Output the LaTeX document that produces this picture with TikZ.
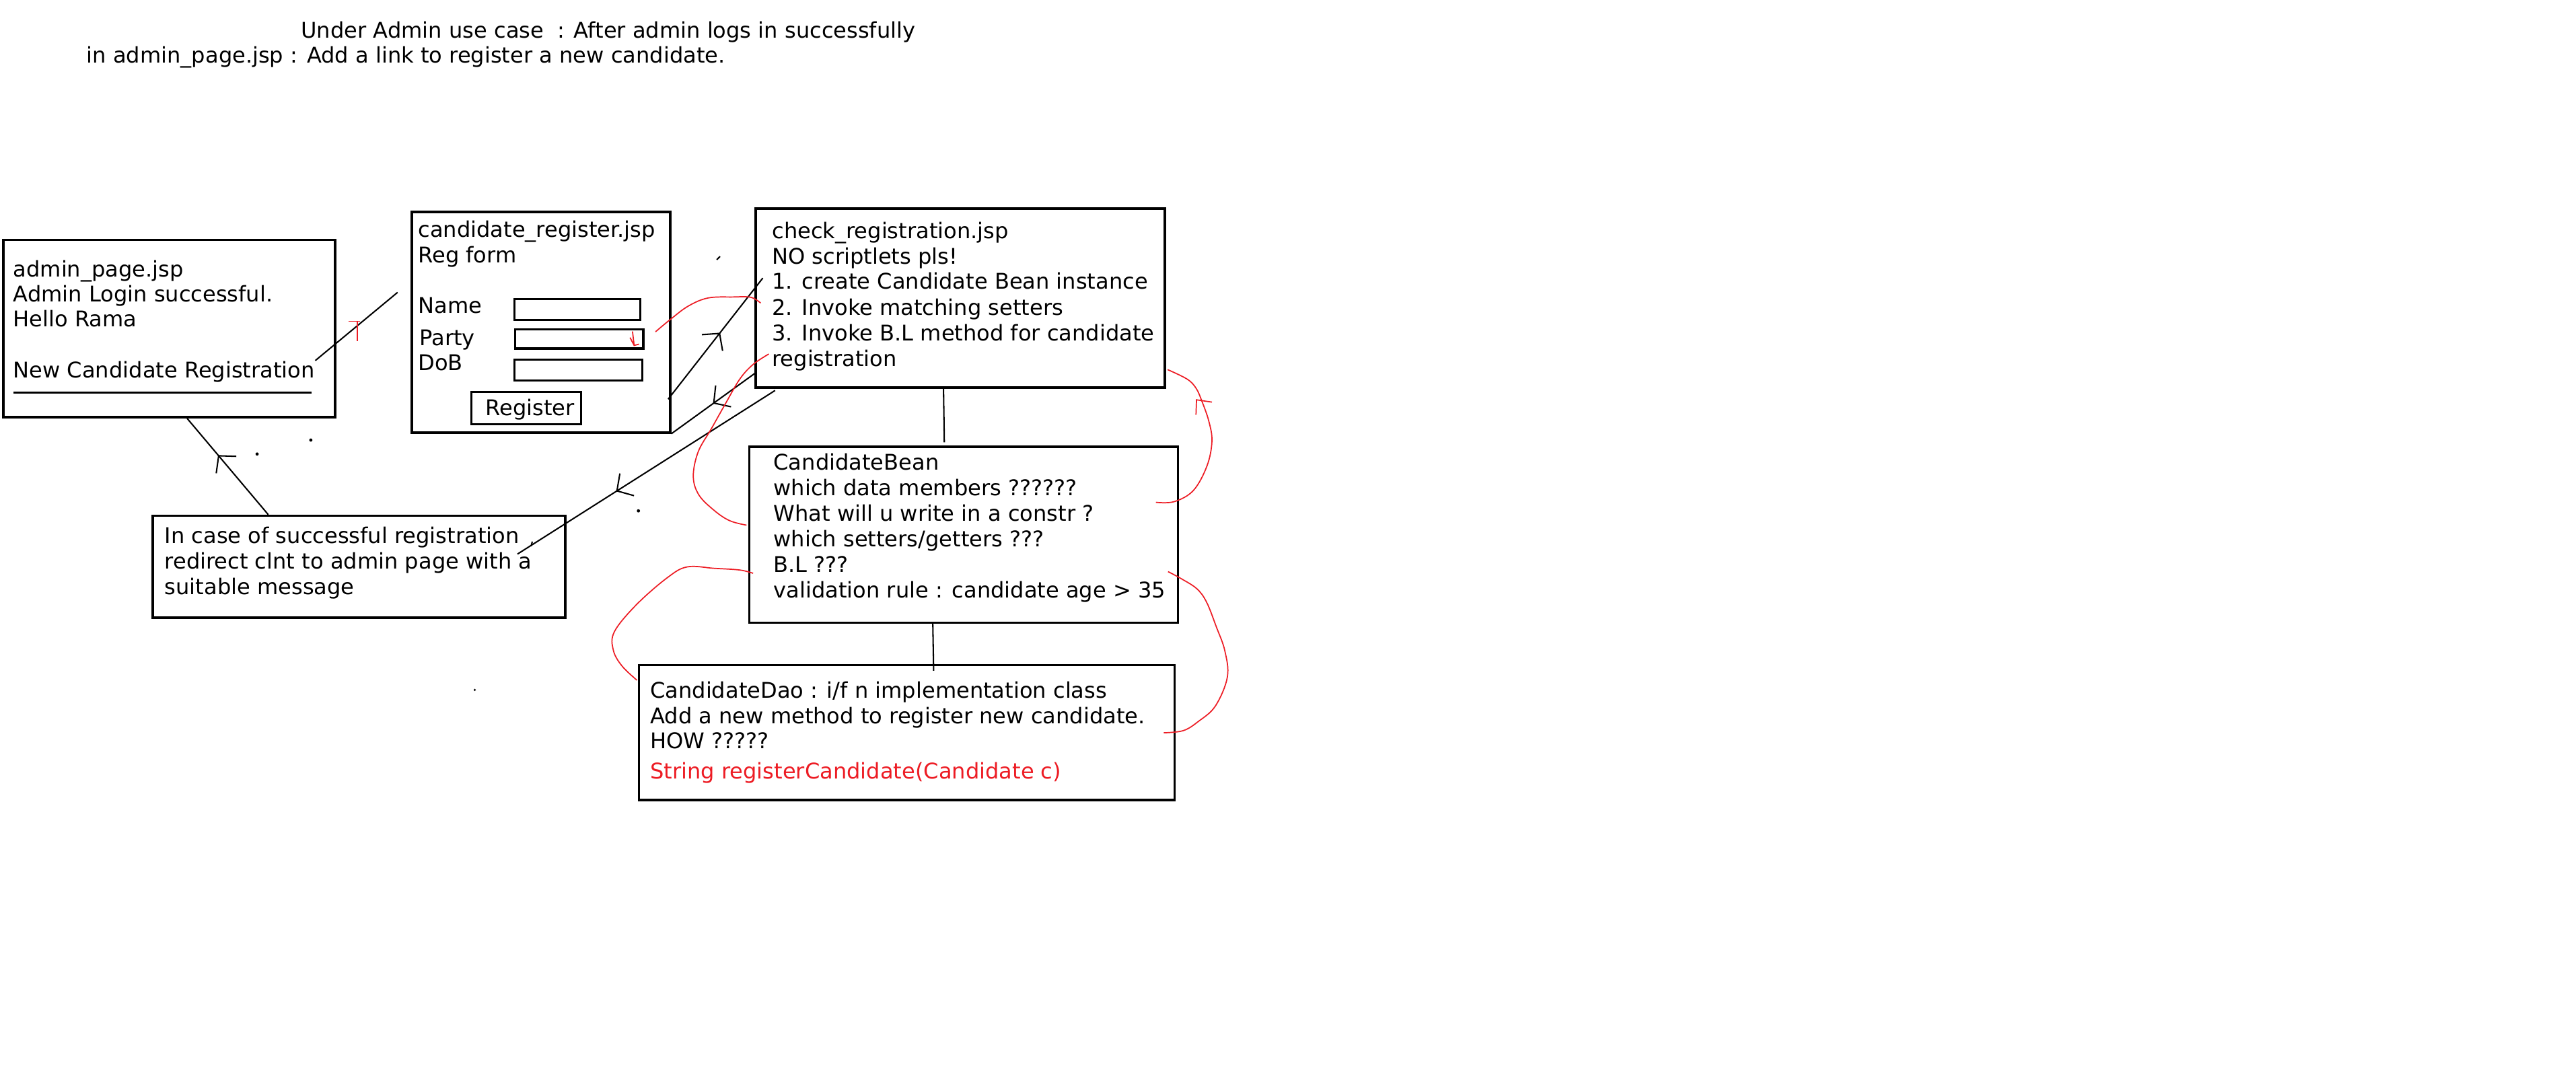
\documentclass[tikz,border=0pt]{standalone}
\usepackage{fontspec}
\setmainfont{DejaVu Sans}
\usetikzlibrary{arrows.meta, fit, calc, decorations.markings}

\definecolor{penRed}{RGB}{237, 28, 36}

\begin{document}
\begin{tikzpicture}[x=0.025cm, y=-0.025cm,
        page/.style={draw, line width=1pt, inner sep=0pt},
        field/.style={draw, line width=0.9pt, inner sep=0pt},
        txt/.style={anchor=base west, inner sep=0pt, font=\fontsize{9.35}{11}\selectfont},
        link/.style={line width=0.6pt},
        scribble/.style={draw=penRed, line width=0.5pt},
        midarrow/.style={postaction={decorate}, decoration={markings,
            mark=at position #1 with {\arrow{Straight Barb[length=1.8mm, width=4mm]}}}}]
        \fill[white] (0,0) rectangle (1568,662);
        \useasboundingbox (0,0) rectangle (1568,662);

        % Heading
        \node[txt] (title1) at (183,23.2) {Under Admin use case~~: After admin logs in successfully};
        \node[txt] (title2) at (52.5,38.2) {in admin\_page.jsp : Add a link to register a new candidate.};

        % admin_page.jsp
        \node[page, fit={(2,146) (204,254)}] (admin) {};
        \node[txt] (adm1) at (7.8,168.4) {admin\_page.jsp};
        \node[txt] (adm2) at (7.8,183.6) {Admin Login successful.};
        \node[txt] (adm3) at (7.8,199) {Hello Rama};
        \node[txt] (link) at (7.8,229.8) {New Candidate Registration};
        \draw[line width=1pt] (8.3,239) -- (189.8,239);

        % candidate_register.jsp with the form
        \node[page, fit={(250.6,129) (408,263.3)}] (reg) {};
        \node[txt] (reg1) at (254.3,144.5) {candidate\_register.jsp};
        \node[txt] (reg2) at (254.3,159.8) {Reg form};
        \node[txt] (lname) at (254.3,190.8) {Name};
        \node[txt] (lparty) at (255.1,210.3) {Party};
        \node[txt] (ldob) at (254.3,225.6) {DoB};
        \node[field, fit={(313,182) (389.6,194.9)}] (fname) {};
        \node[field, fit={(313.7,200.5) (391.6,212.2)}] (fparty) {};
        \node[field, fit={(313,218.9) (390.8,231.7)}] (fdob) {};
        \node[field, fit={(287,238.6) (353.7,258.1)}] (btn) {};
        \node[txt] (btntext) at (295.2,252.9) {Register};

        % check_registration.jsp
        \node[page, fit={(460,127) (709,236)}] (check) {};
        \node[txt] (chk1) at (469.7,145.2) {check\_registration.jsp};
        \node[txt] (chk2) at (469.7,160.7) {NO scriptlets pls!};
        \node[txt] (chk3) at (469.7,176) {1. create Candidate Bean instance};
        \node[txt] (chk4) at (469.7,191.8) {2. Invoke matching setters};
        \node[txt] (chk5) at (469.7,207.5) {3. Invoke B.L method for candidate};
        \node[txt] (chk6) at (469.7,223) {registration};

        % redirect note
        \node[page, fit={(93,314) (344,376)}] (note) {};
        \node[txt] (note1) at (100,330.8) {In case of successful registration};
        \node[txt] (note2) at (100,346.4) {redirect clnt to admin page with a};
        \node[txt] (note3) at (100,361.9) {suitable message};

        % CandidateBean
        \node[page, fit={(456,272) (717,379)}] (bean) {};
        \node[txt] (bean1) at (470.6,286.3) {CandidateBean};
        \node[txt] (bean2) at (470.6,301.7) {which data members ??????};
        \node[txt] (bean3) at (470.6,317.4) {What will u write in a constr ?};
        \node[txt] (bean4) at (470.6,332.7) {which setters/getters ???};
        \node[txt] (bean5) at (470.6,348.3) {B.L ???};
        \node[txt] (bean6) at (470.6,364) {validation rule : candidate age > 35};

        % CandidateDao
        \node[page, fit={(389,405) (715,487)}] (dao) {};
        \node[txt] (dao1) at (395.5,425) {CandidateDao : i/f n implementation class};
        \node[txt] (dao2) at (395.5,440.4) {Add a new method to register new candidate.};
        \node[txt] (dao3) at (395.5,455.7) {HOW ?????};
        \node[txt, text=penRed] (dao4) at (395.5,474) {String registerCandidate(Candidate c)};

        % black connectors
        \coordinate (regIn) at (242,178);
        \draw[link] (link.north east) -- (regIn);
        \draw[link, midarrow=0.62] ($(note.north west)+(71,0)$) -- ($(admin.south west)+(112.6,0)$);
        \draw[link, midarrow=0.55] ($(reg.south east)+(-2,-21)$) -- ($(check.north west)+(5,43)$);
        \draw[link, midarrow=0.51] ($(check.south west)+(1,-10)$) -- (reg.south east);
        \draw[link, midarrow=0.617] ($(check.south west)+(12.5,1)$) -- ($(note.north west)+(222.7,24)$);
        \draw[link] ($(check.south west)+(115,-1)$) -- ($(bean.north west)+(119.5,-2)$);
        \draw[link] ($(bean.south west)+(112.5,0)$) -- ($(dao.north west)+(180,4)$);

        % red pen marks
        \draw[scribble] (212.1,195.6) -- (219.3,195.6) (217.6,195.6) -- (217.6,207.8);
        \draw[scribble] (383.5,205.5) -- (386,210.3) (385,201.8) -- (386,210.3) -- (389,209.5);
        \draw[scribble] plot[smooth, tension=0.6] coordinates {(399,202) (408,194.5) (419,186.3)
            (431,181.4) (446,180.8) (457,181) (463,184.5)};
        \draw[scribble] plot[smooth, tension=0.6] coordinates {(468,215.5) (458.6,221.7) (450.5,230.5)
            (442,245) (433,261) (425,275) (422,290) (425.4,301.3) (434.8,310.8) (444.2,317) (454.4,319.7)};
        \draw[scribble] plot[smooth, tension=0.6] coordinates {(703.6,305.8) (714.7,305.4) (726.4,298.6)
            (734.7,283.6) (737.7,268.6) (735.8,256.4) (731.5,244) (728,236.3) (722.6,230.8) (710.7,225)};
        \draw[scribble] (737.7,244.8) -- (728.3,243.4) -- (728,252.5);
        \draw[scribble] plot[smooth, tension=0.6] coordinates {(387.7,414.1) (378.5,405.3) (373.3,395.7)
            (374,384.5) (387.5,368) (406.3,351.6) (418.4,345.1) (434.9,346) (450.2,347) (458.4,349)};
        \draw[scribble] plot[smooth, tension=0.6] coordinates {(711,348) (719.2,352.4) (728.6,358.5)
            (734.5,366.7) (740.4,381.7) (745.5,396) (747.1,412.1) (739.8,429.8) (729.3,439.3)
            (720.2,444.8) (708.4,446.1)};

        % stray pen specks
        \draw[link] (436.3,158.1) -- (438.3,156.1);
        \draw[link] (324,329.7) -- (323.3,332.5);
        \fill (189.2,267.9) circle[radius=0.7pt];
        \fill (156.5,276.4) circle[radius=0.7pt];
        \fill (388.6,311) circle[radius=0.7pt];
        \fill (289,420) circle[radius=0.5pt];
\end{tikzpicture}
\end{document}
